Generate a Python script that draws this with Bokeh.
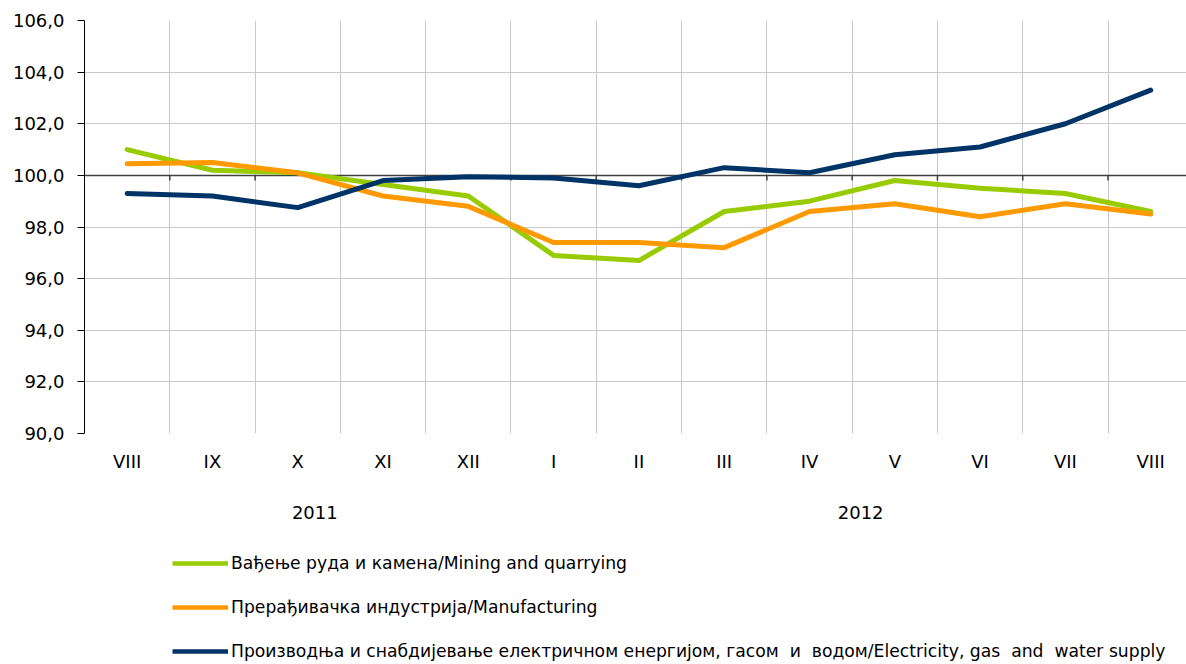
from bokeh.plotting import figure
from bokeh.layouts import column
from bokeh.models import (Range1d, FixedTicker, CustomJSTickFormatter, Legend, LegendItem, LinearAxis)
from bokeh.embed import file_html
from bokeh.resources import INLINE

# ---- data ----
months = ["VIII", "IX", "X", "XI", "XII", "I", "II", "III", "IV", "V", "VI", "VII", "VIII"]
years = ["2011", "2012"]
mining = [101.0, 100.2, 100.1, 99.65, 99.2, 96.9, 96.7, 98.6, 99.0, 99.8, 99.5, 99.3, 98.6]
manufacturing = [100.45, 100.5, 100.1, 99.2, 98.8, 97.4, 97.4, 97.2, 98.6, 98.9, 98.4, 98.9, 98.5]
electricity = [99.3, 99.2, 98.75, 99.8, 99.95, 99.9, 99.6, 100.3, 100.1, 100.8, 101.1, 102.0, 103.3]
series_names = [
    "Вађење руда и камена/Mining and quarrying",
    "Прерађивачка индустрија/Manufacturing",
    "Производња и снабдијевање електричном енергијом, гасом  и  водом/Electricity, gas  and  water supply",
]
y_ticks = [90, 92, 94, 96, 98, 100, 102, 104, 106]

# ---- styling / layout ----
FONT = "DejaVu Sans"
colors = ["#99cc00", "#ff9900", "#003366"]
grid_color = "#c8c8c8"
year_label_pos = [2.2, 8.6]

x = list(range(len(months)))
boundaries = [i + 0.5 for i in x]
series = [mining, manufacturing, electricity]

p = figure(width=1186, height=530, output_backend="svg", toolbar_location=None,
           x_range=Range1d(-0.5, 12.42), y_range=Range1d(90, 106),
           min_border_left=84, min_border_right=0, min_border_top=20, min_border_bottom=97)
p.outline_line_color = None

# grids
p.ygrid.ticker = FixedTicker(ticks=y_ticks)
p.xgrid.ticker = FixedTicker(ticks=boundaries)
p.xgrid.grid_line_color = grid_color
p.ygrid.grid_line_color = grid_color

# y axis
p.yaxis.ticker = FixedTicker(ticks=y_ticks)
p.yaxis.formatter = CustomJSTickFormatter(code="return tick.toFixed(1).replace('.', ',');")
p.yaxis.axis_line_color = "black"
p.yaxis.major_tick_line_color = "black"
p.yaxis.major_tick_out = 7
p.yaxis.major_tick_in = 0
p.yaxis.minor_tick_line_color = None
p.yaxis.major_label_standoff = 13
p.yaxis.major_label_text_font = FONT
p.yaxis.major_label_text_font_size = "18px"
p.yaxis.major_label_text_color = "black"

# x axis with month labels (axis line itself drawn at 100)
p.xaxis.ticker = FixedTicker(ticks=x)
p.xaxis.major_label_overrides = {i: m for i, m in zip(x, months)}
p.xaxis.axis_line_color = None
p.xaxis.major_tick_line_color = None
p.xaxis.minor_tick_line_color = None
p.xaxis.major_tick_out = 0
p.xaxis.major_tick_in = 0
p.xaxis.major_label_standoff = 17
p.xaxis.major_label_text_font = FONT
p.xaxis.major_label_text_font_size = "18px"
p.xaxis.major_label_text_color = "black"

# second axis with year labels
yax = LinearAxis(ticker=FixedTicker(ticks=year_label_pos),
                 major_label_overrides={pos: yr for pos, yr in zip(year_label_pos, years)},
                 axis_line_color=None, major_tick_line_color=None, minor_tick_line_color=None,
                 major_tick_out=0, major_tick_in=0, major_label_standoff=31,
                 major_label_text_font=FONT, major_label_text_font_size="18px",
                 major_label_text_color="black")
p.add_layout(yax, "below")

# horizontal axis line at 100 with tick marks at category boundaries
p.hspan(y=[100], line_color="#404040", line_width=1.5)
p.segment(x0=boundaries[:-1], y0=[100] * (len(boundaries) - 1),
          x1=boundaries[:-1], y1=[99.8] * (len(boundaries) - 1),
          line_color="#404040", line_width=1.5)

for vals, c in zip(series, colors):
    p.line(x, vals, line_color=c, line_width=5, line_cap="round", line_join="round")

# legend panel (its line renderers lie outside its visible range; only the legend shows)
q = figure(width=1186, height=134, output_backend="svg", toolbar_location=None,
           x_axis_type=None, y_axis_type=None, x_range=Range1d(0, 1), y_range=Range1d(0, 1),
           min_border=0)
q.outline_line_color = None
q.grid.visible = False
items = []
for n, vals, c in zip(series_names, series, colors):
    r = q.line(x, vals, line_color=c, line_width=4.5)
    items.append(LegendItem(label=n, renderers=[r]))
legend = Legend(items=items, location=(88, 3), orientation="vertical",
                glyph_width=56, glyph_height=20, label_height=20, spacing=24, padding=0,
                margin=0, label_standoff=3, border_line_color=None, background_fill_alpha=0,
                label_text_font=FONT, label_text_font_size="17.2px", label_text_color="black")
q.add_layout(legend, "center")

layout = column(p, q, spacing=0)
open("out.html", "w").write(file_html(layout, INLINE))
